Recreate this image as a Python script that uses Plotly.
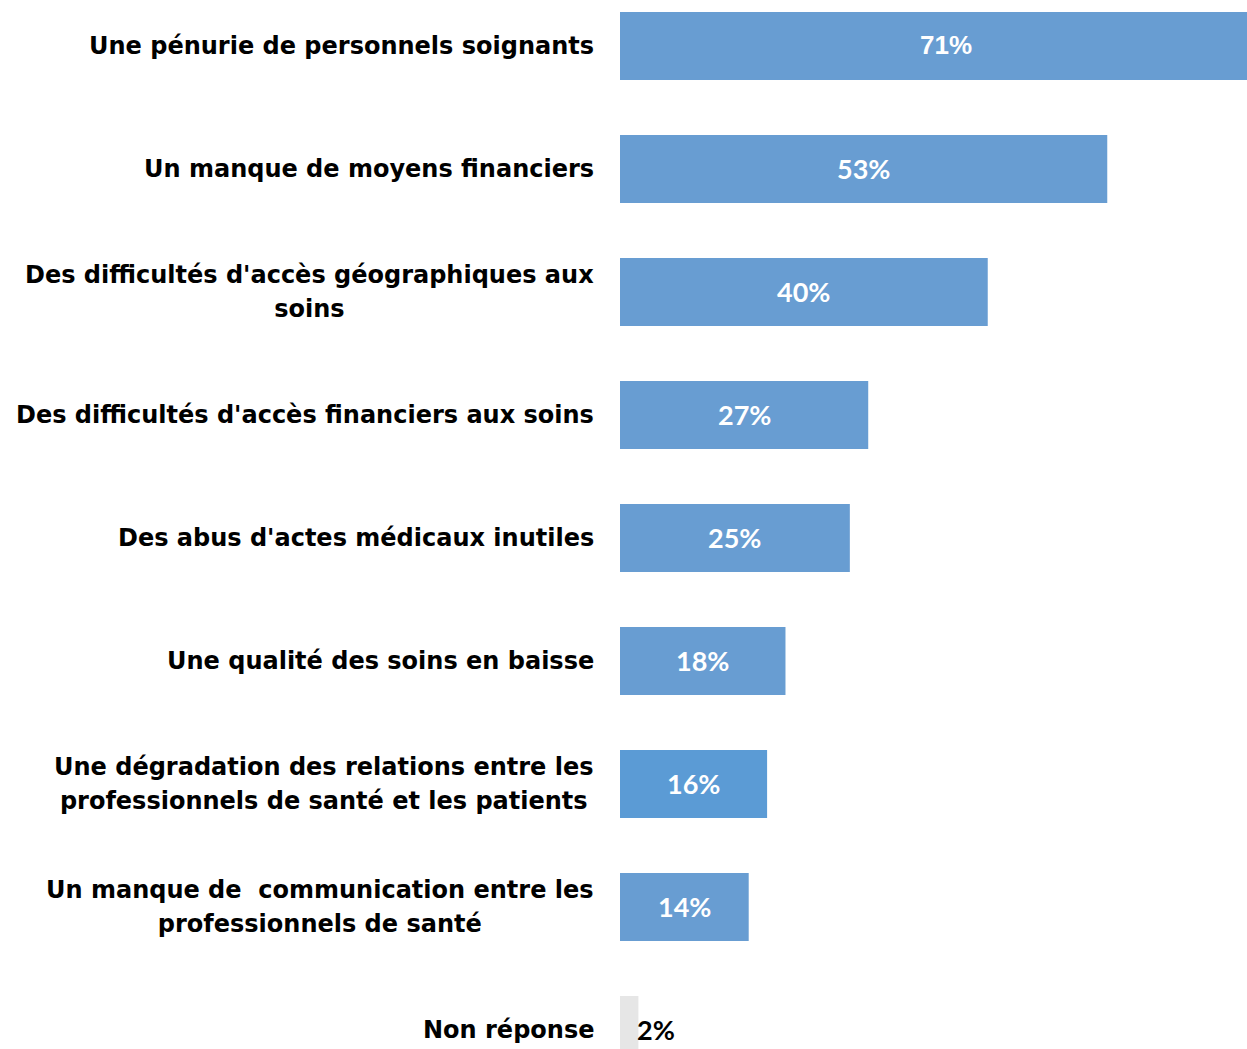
import plotly.graph_objects as go

categories = [
    "Une pénurie de personnels soignants",
    "Un manque de moyens financiers",
    "Des difficultés d'accès géographiques aux<br>soins",
    "Des difficultés d'accès financiers aux soins",
    "Des abus d'actes médicaux inutiles",
    "Une qualité des soins en baisse",
    "Une dégradation des relations entre les<br>professionnels de santé et les patients",
    "Un manque de  communication entre les<br>professionnels de santé",
    "Non réponse",
]
values = [71, 53, 40, 27, 25, 18, 16, 14, 2]
value_labels = ["71%", "53%", "40%", "27%", "25%", "18%", "16%", "14%", "2%"]
bar_colors = ["#689DD2", "#689DD2", "#689DD2", "#689DD2", "#689DD2", "#689DD2",
              "#5B9BD5", "#689DD2", "#E6E6E6"]
label_fonts = ["Liberation Sans", "Lato", "Lato", "Lato", "Lato", "Lato",
               "Lato", "Lato", "Lato"]

positions = list(range(len(categories)))

fig = go.Figure()
fig.add_trace(go.Bar(
    x=values, y=positions, orientation="h",
    marker=dict(color=bar_colors, line=dict(width=0)),
    width=0.553, hoverinfo="skip",
))

CAT_FONT = "DejaVu Sans"
annotations = []
for i, (cat, v, lab, lf) in enumerate(zip(categories, values, value_labels, label_fonts)):
    annotations.append(dict(
        xref="paper", x=0, yref="y", y=i,
        text='<span style="font-size:24px"><b>' + cat.replace("<br>", "</b></span><br><span style=\"font-size:24px\"><b>") + "</b></span>",
        xanchor="right", yanchor="middle", xshift=-24, align="center",
        showarrow=False, font=dict(family=CAT_FONT, size=26, color="#000000"),
    ))
    if v >= 5:
        annotations.append(dict(
            xref="x", x=v / 2, yref="y", y=i, text="<b>" + lab + "</b>",
            xanchor="center", yanchor="middle", yshift=1, showarrow=False,
            font=dict(family=lf, size=26 if lf == "Liberation Sans" else 27,
                      color="#FFFFFF"),
        ))
    else:
        annotations.append(dict(
            xref="x", x=v, yref="y", y=i, text="<b>" + lab + "</b>",
            xanchor="left", yanchor="middle", xshift=-3, yshift=1, showarrow=False,
            font=dict(family=lf, size=27, color="#000000"),
        ))

fig.update_layout(
    width=1247, height=1049,
    margin=dict(l=620, r=0, t=0, b=0),
    plot_bgcolor="white", paper_bgcolor="white",
    showlegend=False,
    xaxis=dict(range=[0, 68.2], visible=False, fixedrange=True),
    yaxis=dict(range=[8.154, -0.374], visible=False, fixedrange=True),
    annotations=annotations,
)

fig.write_html(
    "out.html",
    config={"displayModeBar": False, "staticPlot": True},
    post_script="document.body.style.margin='0';document.body.style.overflow='hidden';",
)
